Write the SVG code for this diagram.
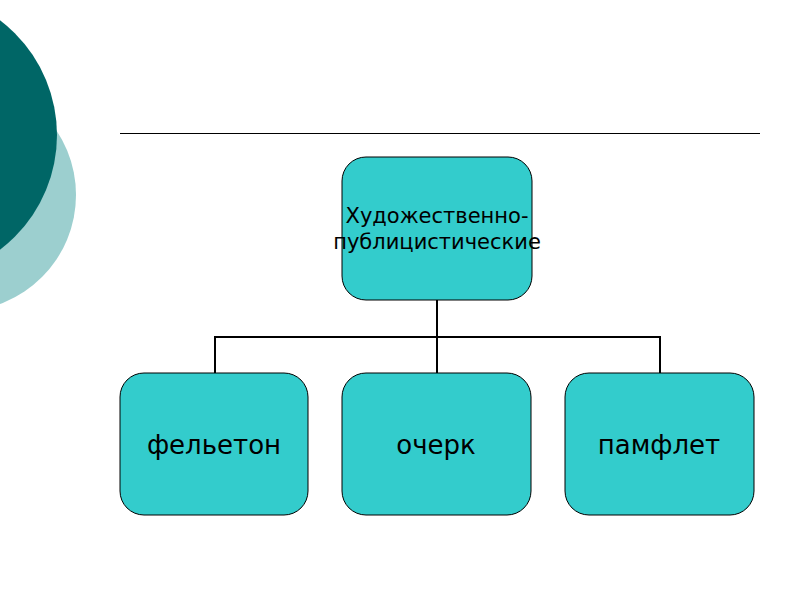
<svg xmlns="http://www.w3.org/2000/svg" width="800" height="600" viewBox="0 0 800 600">
<style>
.box{fill:#33cccc;stroke:#000;stroke-width:1}
.t{font-family:"DejaVu Sans",sans-serif;fill:#000;text-anchor:middle}
.conn{fill:none;stroke:#000;stroke-width:2}
</style>
<rect width="800" height="600" fill="#fff"/>
<circle cx="-40" cy="195" r="116" fill="#9ccfcf"/>
<circle cx="-87" cy="135" r="144" fill="#006666"/>
<line x1="120" y1="133.5" x2="760" y2="133.5" stroke="#000" stroke-width="1"/>
<g id="connectors">
<path class="conn" d="M437 300V337M215 373V337H660V373M437 337V373"/>
</g>
<g id="top"><rect class="box" x="342" y="157" width="190" height="143" rx="24"/>
<text class="t" font-size="21" x="437" y="223">Художественно-</text>
<text class="t" font-size="21" x="437" y="249">публицистические</text></g>
<g id="n1"><rect class="box" x="120" y="373" width="188" height="142" rx="24"/>
<text class="t" font-size="26" x="214" y="454">фельетон</text></g>
<g id="n2"><rect class="box" x="342" y="373" width="189" height="142" rx="24"/>
<text class="t" font-size="26" x="436" y="454">очерк</text></g>
<g id="n3"><rect class="box" x="565" y="373" width="189" height="142" rx="24"/>
<text class="t" font-size="26" x="659" y="454">памфлет</text></g>
</svg>
